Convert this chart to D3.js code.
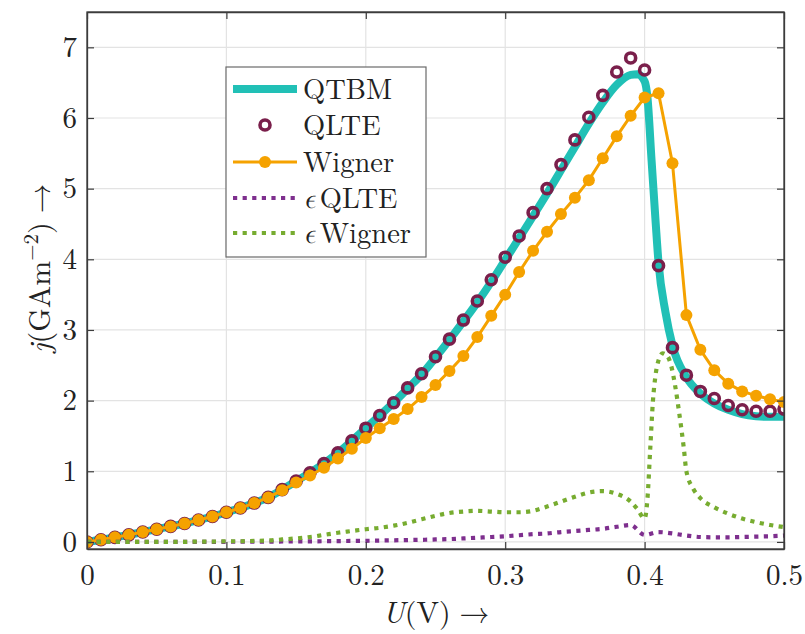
<!DOCTYPE html>
<html><head><meta charset="utf-8">
<script src="https://cdn.jsdelivr.net/npm/d3@7"></script>
<style>
body{margin:0;background:#fff}
</style>
</head><body>
<svg id="chart" width="805" height="634"></svg>
<script>
// ---------- data ----------
const U = [0,0.01,0.02,0.03,0.04,0.05,0.06,0.07,0.08,0.09,0.10,0.11,0.12,0.13,0.14,0.15,0.16,0.17,0.18,0.19,0.20,
  0.21,0.22,0.23,0.24,0.25,0.26,0.27,0.28,0.29,0.30,0.31,0.32,0.33,0.34,0.35,0.36,0.37,0.38,0.39,0.40,
  0.41,0.42,0.43,0.44,0.45,0.46,0.47,0.48,0.49,0.50];
const jQLTE = [0,0.03,0.065,0.10,0.14,0.18,0.22,0.26,0.31,0.36,0.42,0.48,0.55,0.63,0.74,0.86,0.98,1.11,1.26,1.43,1.61,
  1.79,1.97,2.18,2.38,2.62,2.87,3.14,3.41,3.71,4.03,4.33,4.66,5.00,5.34,5.69,6.01,6.32,6.65,6.85,6.68,
  3.91,2.75,2.36,2.13,2.03,1.93,1.87,1.85,1.85,1.88];
const jWigner = [0,0.03,0.065,0.10,0.14,0.18,0.22,0.26,0.31,0.36,0.42,0.48,0.55,0.63,0.73,0.84,0.94,1.05,1.18,1.32,1.47,
  1.61,1.74,1.88,2.05,2.22,2.42,2.63,2.90,3.20,3.50,3.82,4.12,4.39,4.64,4.87,5.12,5.43,5.74,6.03,6.29,
  6.35,5.36,3.21,2.72,2.43,2.24,2.13,2.07,2.02,1.98];
const epsQLTE = [0,0,0,0,0,0,0,0,0,0,0.002,0.003,0.004,0.005,0.006,0.007,0.008,0.010,0.012,0.014,0.016,
  0.020,0.023,0.027,0.030,0.035,0.040,0.050,0.060,0.070,0.080,0.095,0.110,0.120,0.140,0.155,0.170,0.185,0.215,0.240,0.100,
  0.140,0.120,0.090,0.070,0.065,0.065,0.070,0.075,0.080,0.090];
const U_QTBM = [0,0.01,0.02,0.03,0.04,0.05,0.06,0.07,0.08,0.09,0.10,0.11,0.12,0.13,0.14,0.15,0.16,0.17,0.18,0.19,0.20,
  0.21,0.22,0.23,0.24,0.25,0.26,0.27,0.28,0.29,0.30,0.31,0.32,0.33,0.34,0.35,0.36,0.37,0.38,0.39,0.395,0.40,
  0.402,0.405,0.408,0.41,0.415,0.42,0.43,0.44,0.45,0.46,0.47,0.48,0.49,0.50];
const jQTBM = [0,0.03,0.065,0.10,0.14,0.18,0.22,0.26,0.31,0.36,0.42,0.48,0.55,0.63,0.74,0.86,0.98,1.11,1.26,1.43,1.61,
  1.79,1.97,2.17,2.37,2.61,2.86,3.12,3.39,3.68,3.99,4.30,4.61,4.93,5.26,5.59,5.92,6.22,6.47,6.61,6.62,6.52,
  6.30,5.40,4.50,3.95,3.25,2.78,2.33,2.10,1.96,1.87,1.81,1.78,1.77,1.77];
const U_epsW = [0,0.01,0.02,0.03,0.04,0.05,0.06,0.07,0.08,0.09,0.10,0.11,0.12,0.13,0.14,0.15,0.16,0.17,0.18,0.19,0.20,
  0.21,0.22,0.23,0.24,0.25,0.26,0.27,0.28,0.29,0.30,0.31,0.32,0.33,0.34,0.35,0.36,0.37,0.38,0.39,0.395,0.40,
  0.402,0.404,0.406,0.408,0.41,0.413,0.416,0.419,0.422,0.425,0.428,0.43,0.435,0.44,0.45,0.46,0.47,0.48,0.49,0.50];
const epsWigner = [0,0,0,0,0,0,0,0,0.005,0.005,0.01,0.01,0.015,0.02,0.035,0.05,0.07,0.10,0.13,0.155,0.18,
  0.20,0.23,0.27,0.32,0.37,0.41,0.43,0.44,0.43,0.42,0.42,0.44,0.50,0.57,0.64,0.70,0.72,0.68,0.57,0.46,0.33,
  0.60,1.30,2.00,2.38,2.57,2.67,2.64,2.50,2.20,1.80,1.35,1.00,0.75,0.62,0.49,0.40,0.33,0.28,0.24,0.21];
const xTicks = [0,0.1,0.2,0.3,0.4,0.5];
const xTickLabels = ["0","0.1","0.2","0.3","0.4","0.5"];
const yTicks = [0,1,2,3,4,5,6,7];
const yTickLabels = ["0","1","2","3","4","5","6","7"];
const legendNames = ["QTBM","QLTE","Wigner","ϵ QLTE","ϵ Wigner"];

// ---------- layout ----------
const FONT = '"Latin Modern Roman","Liberation Serif",serif';
const MATH = '"Latin Modern Math","Latin Modern Roman","DejaVu Serif",serif';
const L = 87, R = 784, T = 12, B = 549;
const col = {qtbm:"#21c0b6", qlte:"#7a1f4b", wig:"#f5a200", eq:"#7e2f8e", ew:"#77ac30"};
const svg = d3.select("#chart");
const x = d3.scaleLinear().domain([0,0.5]).range([L,R]);
const y = d3.scaleLinear().domain([-0.1,7.5]).range([B,T]);

// grid
const g = svg.append("g");
g.selectAll(".gx").data(xTicks.slice(1,-1)).join("line")
  .attr("x1",d=>x(d)).attr("x2",d=>x(d)).attr("y1",T).attr("y2",B)
  .attr("stroke","#e3e3e3").attr("stroke-width",1.2);
g.selectAll(".gy").data(yTicks).join("line")
  .attr("y1",d=>y(d)).attr("y2",d=>y(d)).attr("x1",L).attr("x2",R)
  .attr("stroke","#e3e3e3").attr("stroke-width",1.2);

svg.append("clipPath").attr("id","clip").append("rect")
  .attr("x",L).attr("y",T).attr("width",R-L).attr("height",B-T);
const plot = svg.append("g").attr("clip-path","url(#clip)");

// QTBM
plot.append("path")
  .attr("d", d3.line().x((d,i)=>x(U_QTBM[i])).y(d=>y(d)).curve(d3.curveMonotoneX)(jQTBM))
  .attr("fill","none").attr("stroke",col.qtbm).attr("stroke-width",8).attr("stroke-linejoin","round");

// QLTE circles
plot.selectAll(".ql").data(jQLTE).join("circle")
  .attr("cx",(d,i)=>x(U[i])).attr("cy",d=>y(d)).attr("r",5)
  .attr("fill","none").attr("stroke",col.qlte).attr("stroke-width",3.6);

// Wigner
plot.append("path")
  .attr("d", d3.line().x((d,i)=>x(U[i])).y(d=>y(d))(jWigner))
  .attr("fill","none").attr("stroke",col.wig).attr("stroke-width",3);
plot.selectAll(".wg").data(jWigner).join("circle")
  .attr("cx",(d,i)=>x(U[i])).attr("cy",d=>y(d)).attr("r",6)
  .attr("fill",col.wig);

// eps QLTE
plot.append("path")
  .attr("d", d3.line().x((d,i)=>x(U[i])).y(d=>y(d)).curve(d3.curveMonotoneX)(epsQLTE))
  .attr("fill","none").attr("stroke",col.eq).attr("stroke-width",4.2).attr("stroke-dasharray","4.2 5.4");
// eps Wigner
plot.append("path")
  .attr("d", d3.line().x((d,i)=>x(U_epsW[i])).y(d=>y(d)).curve(d3.curveMonotoneX)(epsWigner))
  .attr("fill","none").attr("stroke",col.ew).attr("stroke-width",4.2).attr("stroke-dasharray","4.2 5.4");

// axes
const axCol = "#3c3c3c";
const ax = svg.append("g");
const axLeft = ax.append("g").attr("transform",`translate(${L},0)`)
  .call(d3.axisLeft(y).tickValues(yTicks).tickFormat((d,i)=>yTickLabels[i]).tickSize(-7).tickSizeOuter(0).tickPadding(10));
const axBottom = ax.append("g").attr("transform",`translate(0,${B})`)
  .call(d3.axisBottom(x).tickValues(xTicks).tickFormat((d,i)=>xTickLabels[i]).tickSize(-7).tickSizeOuter(0).tickPadding(15));
const axRight = ax.append("g").attr("transform",`translate(${R},0)`)
  .call(d3.axisRight(y).tickValues(yTicks).tickFormat("").tickSize(-7).tickSizeOuter(0));
const axTop = ax.append("g").attr("transform",`translate(0,${T})`)
  .call(d3.axisTop(x).tickValues(xTicks).tickFormat("").tickSize(-7).tickSizeOuter(0));
[axLeft,axBottom,axRight,axTop].forEach(a=>{
  a.attr("font-family",null);
  a.select(".domain").attr("stroke",axCol).attr("stroke-width",1.3);
  a.selectAll(".tick line").attr("stroke",axCol).attr("stroke-width",1.2);
  a.selectAll("text").attr("font-size",29).attr("fill","#222").style("font-family",FONT);
});
ax.append("rect").attr("x",L).attr("y",T).attr("width",R-L).attr("height",B-T)
  .attr("fill","none").attr("stroke",axCol).attr("stroke-width",1.3);

// axis labels
const xl = svg.append("text").attr("x",436).attr("y",623).attr("text-anchor","middle")
  .attr("font-size",30).attr("fill","#222").style("font-family",FONT);
xl.append("tspan").attr("font-style","italic").text("U");
xl.append("tspan").text("(V)");
xl.append("tspan").attr("dx",9).text("→");

const yl = svg.append("text").attr("transform","translate(50,268) rotate(-90)").attr("text-anchor","middle")
  .attr("font-size",30).attr("fill","#222").style("font-family",FONT);
yl.append("tspan").attr("font-style","italic").text("j");
yl.append("tspan").text("(GAm");
yl.append("tspan").attr("dy",-12).attr("font-size",21).text("−2");
yl.append("tspan").attr("dy",12).text(")");
yl.append("tspan").attr("dx",9).text("→");

// legend
const lg = svg.append("g");
lg.append("rect").attr("x",226).attr("y",67).attr("width",200).attr("height",190)
  .attr("fill","#fff").attr("stroke","#6a6a6a").attr("stroke-width",1.2);
const rowsY = [89,125,162,198,233];
const lx1 = 233, lx2 = 297, tx = 303;
lg.append("line").attr("x1",lx1).attr("x2",lx2).attr("y1",rowsY[0]).attr("y2",rowsY[0])
  .attr("stroke",col.qtbm).attr("stroke-width",8);
lg.append("circle").attr("cx",(lx1+lx2)/2).attr("cy",rowsY[1]).attr("r",5)
  .attr("fill","none").attr("stroke",col.qlte).attr("stroke-width",3.6);
lg.append("line").attr("x1",lx1).attr("x2",lx2).attr("y1",rowsY[2]).attr("y2",rowsY[2])
  .attr("stroke",col.wig).attr("stroke-width",3);
lg.append("circle").attr("cx",(lx1+lx2)/2).attr("cy",rowsY[2]).attr("r",6).attr("fill",col.wig);
lg.append("line").attr("x1",lx1).attr("x2",lx2).attr("y1",rowsY[3]).attr("y2",rowsY[3])
  .attr("stroke",col.eq).attr("stroke-width",4.2).attr("stroke-dasharray","4.2 5.4");
lg.append("line").attr("x1",lx1).attr("x2",lx2).attr("y1",rowsY[4]).attr("y2",rowsY[4])
  .attr("stroke",col.ew).attr("stroke-width",4.2).attr("stroke-dasharray","4.2 5.4");
legendNames.forEach((n,i)=>{
  const t = lg.append("text").attr("x",tx).attr("y",rowsY[i]+10).attr("font-size",28.5)
    .attr("fill","#222").style("font-family",FONT);
  if (n.startsWith("ϵ")) {
    t.append("tspan").style("font-family",MATH).attr("font-style","italic").text("ϵ");
    t.append("tspan").attr("dx",5).text(n.slice(2));
  } else t.text(n);
});
</script>
</body></html>
